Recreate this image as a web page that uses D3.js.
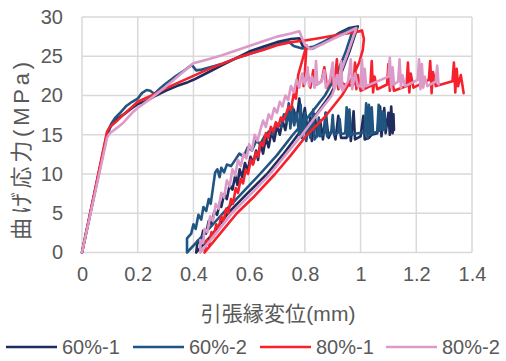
<!DOCTYPE html>
<html>
<head>
<meta charset="utf-8">
<script src="https://cdn.jsdelivr.net/npm/d3@7"></script>
<style>
  body { margin: 0; background: #fff; }
  text { font-family: "Liberation Sans", Arial, "Noto Sans CJK JP", sans-serif; fill: #595959; }
</style>
</head>
<body>
<div id="chart"></div>
<script>
// series names and colours
const seriesNames = ['60%-1', '60%-2', '80%-1', '80%-2'];
const seriesColors = ['#1f2c5e', '#1f5580', '#f5222d', '#dc9ac9'];

const xTicks = [0, 0.2, 0.4, 0.6, 0.8, 1, 1.2, 1.4];
const yTicks = [0, 5, 10, 15, 20, 25, 30];

// [displacement mm, stress MPa]
const s60_1 = [
  [0,0],[0.09,15.0],[0.105,16.2],[0.12,16.9],[0.15,17.6],[0.18,18.4],[0.2,18.9],[0.23,19.3],[0.26,19.9],[0.3,20.6],
  [0.34,21.2],[0.38,21.7],[0.4,22.0],[0.45,22.9],[0.5,23.8],[0.55,24.7],[0.6,25.6],[0.65,26.2],[0.7,26.8],[0.75,27.2],
  [0.78,27.3],[0.795,26.1],[0.83,26.0],[0.87,26.8],[0.92,27.9],[0.96,28.6],[0.99,28.8],
  // unloading
  [0.96,25.6],[0.93,22.8],[0.89,20.0],[0.835,17.3],[0.775,15.0],[0.72,12.4],[0.664,10.0],[0.59,7.4],[0.524,5.0],[0.47,2.4],[0.41,0],
  // reloading
  [0.415,1.5],[0.425,1.2],[0.435,2.8],[0.445,2.4],[0.455,4.0],[0.465,3.6],[0.475,5.2],[0.485,4.8],[0.495,6.4],[0.5,5.8],
  [0.51,7.4],[0.52,6.8],[0.53,8.6],[0.54,8.0],[0.55,9.8],[0.558,8.6],[0.566,10.6],[0.575,9.6],[0.585,11.4],[0.595,10.4],
  [0.605,12.2],[0.615,11.4],[0.625,13.0],[0.632,11.8],[0.64,14.0],[0.65,12.6],[0.66,14.6],[0.67,13.4],[0.68,15.4],[0.69,14.2],
  [0.7,16.2],[0.71,15.0],[0.72,16.8],[0.73,15.6],[0.74,17.6],[0.75,16.4],[0.76,18.2],[0.77,16.8],[0.78,19.6],[0.79,16.4],
  [0.8,18.4],[0.81,15.4],[0.82,17.2],[0.825,14.2],[0.835,17.6],[0.845,14.8],[0.855,16.8],[0.865,14.4],[0.875,17.8],[0.885,14.6],
  [0.9,15.8],[0.91,14.4],[0.92,17.4],[0.93,14.6],[0.95,14.6],[0.96,16.8],[0.965,14.2],[0.975,18.0],[0.98,14.4],[1.0,14.8],
  [1.01,17.4],[1.015,14.4],[1.03,14.6],[1.04,15.0],[1.06,15.2],[1.07,18.6],[1.075,14.8],[1.085,18.4],[1.09,15.2],[1.1,17.8],
  [1.105,15.0],[1.11,18.6],[1.115,15.2],[1.118,17.6],[1.12,15.6]
];

const s60_2 = [
  [0,0],[0.09,15.2],[0.105,16.4],[0.118,17.1],[0.14,17.9],[0.16,18.7],[0.18,19.2],[0.2,19.6],[0.215,20.3],[0.232,20.7],
  [0.245,20.6],[0.26,20.2],[0.28,20.9],[0.3,21.5],[0.33,22.3],[0.36,23.0],[0.394,23.9],[0.41,23.2],[0.43,23.3],[0.47,23.7],
  [0.5,24.0],[0.55,24.7],[0.6,25.3],[0.65,25.9],[0.7,26.5],[0.74,26.9],[0.76,26.3],[0.79,26.0],[0.83,26.2],[0.87,26.9],
  [0.92,27.8],[0.95,28.3],[0.975,28.6],
  // unloading
  [0.945,25.4],[0.91,22.4],[0.872,20.0],[0.815,17.4],[0.757,15.0],[0.7,12.4],[0.639,10.0],[0.57,7.4],[0.506,5.0],[0.44,2.4],[0.377,0],
  // reloading
  [0.377,1.8],[0.392,2.4],[0.4,3.6],[0.408,3.0],[0.418,4.8],[0.428,4.2],[0.436,5.8],[0.446,5.3],[0.455,6.8],[0.462,6.2],
  [0.47,8.2],[0.478,10.2],[0.486,10.6],[0.494,9.6],[0.5,10.8],[0.51,10.2],[0.52,11.2],[0.535,11.0],[0.55,11.8],[0.565,12.6],
  [0.58,12.2],[0.595,13.4],[0.61,13.0],[0.625,14.2],[0.64,13.8],[0.655,14.8],[0.67,15.4],[0.685,15.0],[0.7,16.4],[0.715,16.0],
  [0.725,17.6],[0.735,16.6],[0.742,19.0],[0.748,15.8],[0.755,18.6],[0.762,16.2],[0.77,17.8],[0.78,15.0],[0.785,18.8],[0.79,14.6],
  [0.8,17.8],[0.805,14.2],[0.815,16.5],[0.82,14.6],[0.83,18.2],[0.835,14.4],[0.845,15.0],[0.85,17.2],[0.855,14.8],[0.87,15.2],
  [0.875,17.8],[0.88,14.8],[0.895,15.4],[0.9,17.5],[0.905,15.0],[0.92,15.3],[0.925,17.0],[0.93,15.1],[0.945,15.2],[0.95,18.5],
  [0.955,14.8],[0.96,18.2],[0.965,15.0],[0.99,15.2],[1.015,15.3],[1.02,19.0],[1.025,14.5],[1.03,18.8],[1.035,15.0],[1.04,18.5],
  [1.045,15.2],[1.06,15.4],[1.065,18.8],[1.07,15.5],[1.075,18.0],[1.08,15.6],[1.085,17.8],[1.09,15.8]
];

const s80_1 = [
  [0,0],[0.09,15.4],[0.1,16.0],[0.12,16.6],[0.15,17.6],[0.2,19.2],[0.25,20.0],[0.3,20.9],[0.35,21.7],[0.4,22.5],
  [0.45,23.3],[0.5,24.0],[0.55,24.7],[0.6,25.3],[0.65,25.8],[0.7,26.4],[0.75,26.8],[0.8,27.0],[0.85,27.3],[0.9,27.6],
  [0.95,27.9],[1.0,28.2],[1.005,28.3],
  // unloading
  [1.012,27.2],[1.008,25.8],[0.995,24.2],[0.975,22.6],[0.95,21.0],[0.933,20.0],[0.87,17.2],[0.808,15.0],[0.75,12.4],[0.693,10.0],
  [0.62,7.2],[0.556,5.0],[0.5,2.6],[0.44,0],
  // reloading
  [0.448,1.6],[0.455,1.0],[0.465,2.6],[0.472,2.0],[0.482,3.6],[0.49,3.0],[0.5,4.6],[0.508,4.0],[0.518,5.6],[0.525,5.0],
  [0.535,6.8],[0.542,6.2],[0.552,8.2],[0.56,7.6],[0.57,9.4],[0.578,8.8],[0.588,10.6],[0.596,10.0],[0.606,11.8],[0.614,11.2],
  [0.624,12.8],[0.632,12.2],[0.642,14.0],[0.65,13.6],[0.66,15.2],[0.668,14.6],[0.678,16.0],[0.686,15.4],[0.696,16.6],[0.704,16.0],
  [0.714,17.2],[0.722,16.8],[0.732,17.6],[0.742,18.6],[0.75,18.2],[0.76,20.2],[0.768,19.6],[0.776,22.6],[0.806,26.4],[0.8,23.0],
  [0.795,21.2],[0.81,22.8],[0.82,21.0],[0.83,23.2],[0.84,21.4],[0.86,21.8],[0.87,23.6],[0.88,21.0],[0.895,22.4],[0.905,21.0],
  [0.915,24.6],[0.92,20.8],[0.935,21.6],[0.95,21.2],[0.975,21.4],[0.98,24.2],[0.985,20.8],[0.99,22.6],[1.0,20.6],[1.035,21.2],
  [1.04,24.4],[1.045,20.4],[1.05,22.4],[1.06,20.8],[1.095,21.4],[1.1,24.0],[1.105,20.6],[1.11,22.6],[1.12,20.6],[1.165,21.2],
  [1.17,24.2],[1.175,20.4],[1.18,22.8],[1.19,21.0],[1.245,22.0],[1.25,24.4],[1.255,20.3],[1.26,23.0],[1.27,21.2],[1.33,21.8],
  [1.335,24.2],[1.34,20.4],[1.345,23.4],[1.35,21.2],[1.36,22.6],[1.37,20.3]
];

const s80_2 = [
  [0,0],[0.09,14.6],[0.1,15.2],[0.13,16.0],[0.15,16.6],[0.18,17.8],[0.2,18.4],[0.25,19.7],[0.3,21.1],[0.35,22.6],
  [0.4,24.1],[0.45,24.6],[0.5,25.1],[0.55,25.7],[0.6,26.3],[0.65,26.9],[0.7,27.5],[0.75,27.9],[0.78,28.2],[0.8,26.5],
  [0.82,25.9],[0.86,26.5],[0.9,27.2],[0.95,28.0],[0.985,28.6],
  // unloading
  [0.955,25.5],[0.925,22.6],[0.897,20.0],[0.84,17.4],[0.79,15.0],[0.73,12.4],[0.675,10.0],[0.605,7.4],[0.538,5.0],[0.48,2.4],[0.425,0],
  // reloading
  [0.425,1.6],[0.435,1.2],[0.44,3.0],[0.45,2.6],[0.46,4.6],[0.47,4.0],[0.48,6.2],[0.49,5.6],[0.5,7.6],[0.51,7.0],
  [0.52,9.2],[0.53,8.4],[0.54,10.6],[0.55,9.8],[0.56,11.8],[0.57,11.0],[0.58,12.6],[0.59,12.0],[0.6,13.8],[0.61,13.0],
  [0.62,15.0],[0.63,14.2],[0.64,15.6],[0.65,16.8],[0.66,16.0],[0.67,17.6],[0.68,17.0],[0.69,18.4],[0.7,17.8],[0.71,19.2],
  [0.72,18.6],[0.73,20.0],[0.74,19.4],[0.75,21.2],[0.76,20.4],[0.77,22.0],[0.78,21.0],[0.79,22.8],[0.8,21.4],[0.81,23.6],
  [0.815,21.2],[0.825,22.4],[0.835,21.0],[0.84,24.4],[0.845,21.4],[0.86,21.8],[0.87,23.2],[0.875,21.0],[0.89,22.0],[0.9,24.2],
  [0.905,20.8],[0.915,22.6],[0.925,21.0],[0.93,24.4],[0.935,20.6],[0.955,21.8],[0.965,24.6],[0.97,20.8],[0.98,22.8],[0.99,21.2],
  [1.0,21.2],[1.005,24.6],[1.01,20.8],[1.015,23.4],[1.02,21.2],[1.1,22.4],[1.105,24.8],[1.11,21.0],[1.115,23.6],[1.12,21.4],
  [1.135,21.8],[1.14,24.6],[1.145,21.0],[1.15,22.6],[1.16,21.2],[1.205,22.0],[1.21,24.6],[1.215,20.8],[1.22,24.0],[1.225,21.0],
  [1.23,22.4],[1.24,21.2],[1.27,21.8],[1.275,23.8],[1.28,21.4]
];

const seriesData = [s60_1, s60_2, s80_1, s80_2];

const width = 506, height = 361;
const margin = { top: 17, right: 34, bottom: 108.5, left: 82 };
const innerW = width - margin.left - margin.right;
const innerH = height - margin.top - margin.bottom;

const x = d3.scaleLinear().domain([0, 1.4]).range([0, innerW]);
const y = d3.scaleLinear().domain([0, 30]).range([innerH, 0]);

const svg = d3.select('#chart').append('svg')
  .attr('width', width)
  .attr('height', height);

const g = svg.append('g')
  .attr('transform', 'translate(' + margin.left + ',' + margin.top + ')');

// gridlines
g.append('g')
  .selectAll('line.h')
  .data(yTicks)
  .enter().append('line')
  .attr('x1', 0).attr('x2', innerW)
  .attr('y1', d => y(d)).attr('y2', d => y(d))
  .attr('stroke', '#d9d9d9').attr('stroke-width', 1.5);

g.append('g')
  .selectAll('line.v')
  .data(xTicks)
  .enter().append('line')
  .attr('y1', 0).attr('y2', innerH)
  .attr('x1', d => x(d)).attr('x2', d => x(d))
  .attr('stroke', '#d9d9d9').attr('stroke-width', 1.5);

// axes (labels only)
const xAxis = d3.axisBottom(x).tickValues(xTicks).tickSize(0).tickPadding(14).tickFormat(d3.format('~g'));
const yAxis = d3.axisLeft(y).tickValues(yTicks).tickSize(0).tickPadding(19);

g.append('g')
  .attr('class', 'x axis')
  .attr('transform', 'translate(0,' + innerH + ')')
  .call(xAxis)
  .call(s => s.select('.domain').remove())
  .selectAll('text')
  .style('font-size', '20px');

g.append('g')
  .attr('class', 'y axis')
  .call(yAxis)
  .call(s => s.select('.domain').remove())
  .selectAll('text')
  .style('font-size', '20px');

// series
const line = d3.line().x(d => x(d[0])).y(d => y(d[1]));

g.selectAll('.series')
  .data(seriesData)
  .enter()
  .append('path')
  .attr('class', 'series')
  .attr('d', line)
  .attr('fill', 'none')
  .attr('stroke', (d, i) => seriesColors[i])
  .attr('stroke-width', 2.6)
  .attr('stroke-linejoin', 'round')
  .attr('stroke-linecap', 'round');

// axis titles
svg.append('text')
  .attr('x', 278)
  .attr('y', 321)
  .attr('text-anchor', 'middle')
  .attr('textLength', 155)
  .attr('lengthAdjust', 'spacing')
  .style('font-size', '21px')
  .text('引張縁変位(mm)');

svg.append('text')
  .attr('transform', 'translate(29,151) rotate(-90)')
  .attr('text-anchor', 'middle')
  .attr('textLength', 178)
  .attr('lengthAdjust', 'spacing')
  .style('font-size', '22px')
  .text('曲げ応力(MPa)');

// legend
const legendX = [6, 133, 260, 386];
const legend = svg.append('g').selectAll('g')
  .data(seriesNames)
  .enter().append('g')
  .attr('transform', (d, i) => 'translate(' + legendX[i] + ',347)');

legend.append('line')
  .attr('x1', 0).attr('x2', 51)
  .attr('stroke', (d, i) => seriesColors[i])
  .attr('stroke-width', 2.6);

legend.append('text')
  .attr('x', 56)
  .attr('dy', '0.35em')
  .style('font-size', '20px')
  .text(d => d);
</script>
</body>
</html>
